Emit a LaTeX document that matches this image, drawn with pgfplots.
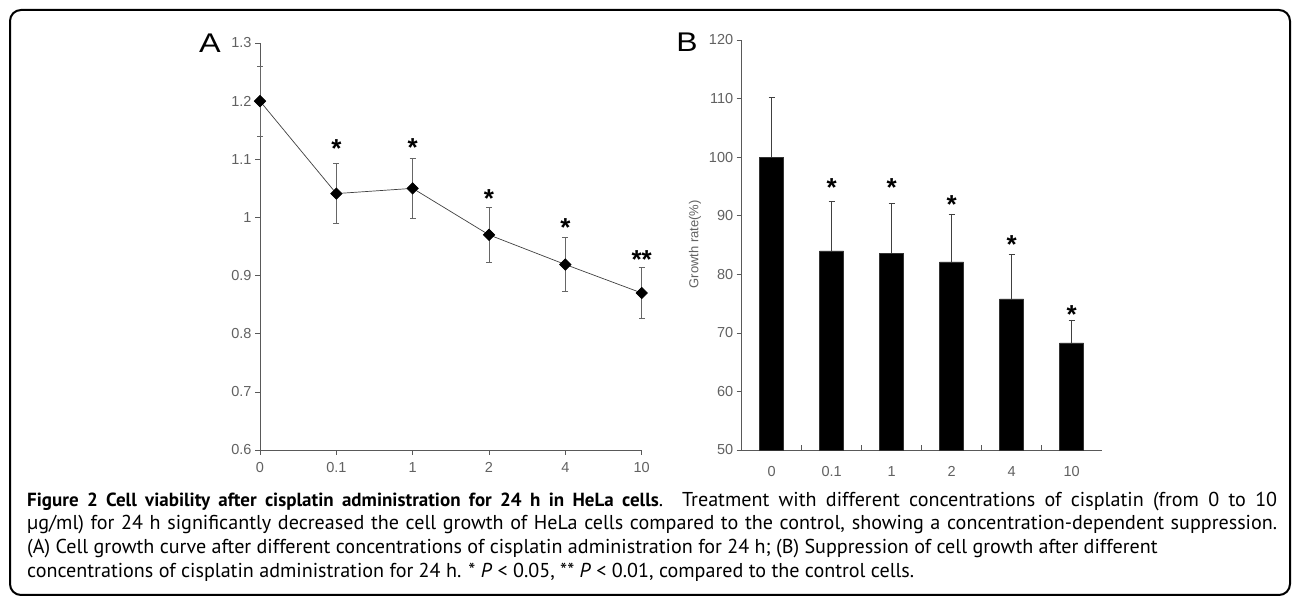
\documentclass[border=0pt]{standalone}
\usepackage{pgfplots}
\pgfplotsset{compat=1.18}
\usepackage{fontspec}
\setmainfont{Liberation Sans}
\newfontfamily\capfont{PT Sans}
\pgfplotstableread{
x y err
0 1.200 0.060
1 1.041 0.052
2 1.050 0.052
3 0.970 0.048
4 0.919 0.047
5 0.870 0.044
}\dataA
\pgfplotstableread{
x y lab
1 1.128 *
2 1.130 *
3 1.042 *
4 0.992 *
5 0.937 **
}\starsA
\pgfplotstableread{
x y err
0 100.0 10.2
1 84.0 8.5
2 83.6 8.5
3 82.1 8.2
4 75.8 7.6
5 68.3 3.9
}\dataB
\pgfplotstableread{
x y lab
1 95.8 *
2 95.8 *
3 92.9 *
4 86.0 *
5 74.0 *
}\starsB
\definecolor{axisgray}{gray}{0.35}
\definecolor{labgray}{gray}{0.38}
\pgfplotsset{
  common/.style={
    scale only axis,
    anchor=south west,
    axis x line=bottom, axis y line=left,
    axis line style={draw=axisgray, line width=0.8pt, -},
    tick style={draw=axisgray, line width=0.7pt},
    major tick length=5pt,
    tick align=outside,
    ticklabel style={font=\fontsize{14.5}{16}\selectfont, text=labgray},
    /pgf/number format/assume math mode=true,
    clip=false,
  },
  starstyle/.style={draw=none, mark=none, nodes near coords, point meta=explicit symbolic,
    nodes near coords style={font=\fontsize{26}{26}\selectfont\bfseries, text=black, anchor=base, yshift=-14.5pt, inner sep=0pt}},
}
\begin{document}
\begin{tikzpicture}[x=1pt,y=1pt]
\useasboundingbox (0,0) rectangle (1293,596);
\draw[line width=2pt, rounded corners=11pt] (10,1) rectangle (1290,586);
\node[font=\fontsize{27}{27}\selectfont, xscale=1.2] at (210,553) {A};
\node[font=\fontsize{27}{27}\selectfont, xscale=1.18] at (687,554) {B};
% Panel A
\begin{axis}[common, at={(260pt,146pt)}, width=381.7pt, height=407pt,
  xmin=0, xmax=5, ymin=0.6, ymax=1.3,
  ytick={0.6,0.7,0.8,0.9,1,1.1,1.2,1.3},
  xtick={0,1,2,3,4,5}, xticklabels={0,0.1,1,2,4,10},
  xticklabel style={yshift=-4pt},
]
\addplot[draw=black!75, line width=0.7pt, mark=square*, mark size=4pt,
  mark options={rotate=45, fill=black, draw=black, solid},
  error bars/.cd, y dir=both, y explicit,
  error bar style={draw=black!60, line width=0.7pt},
  error mark options={rotate=90, mark size=3pt, draw=black!60, line width=0.7pt}]
  table[x=x, y=y, y error=err] {\dataA};
\addplot[starstyle] table[x=x, y=y, meta=lab] {\starsA};
\end{axis}
% Panel B
\begin{axis}[common, at={(741.7pt,146pt)}, width=360pt, height=410pt,
  xmin=-0.5, xmax=5.5, ymin=50, ymax=120,
  ytick={50,60,70,80,90,100,110,120},
  xtick={0,1,2,3,4,5}, xticklabels={0,0.1,1,2,4,10},
  major x tick style={draw=none},
  xticklabel style={yshift=-8pt},
  extra x ticks={0.5,1.5,2.5,3.5,4.5},
  extra x tick labels={},
  extra x tick style={major x tick style={draw=axisgray, line width=0.7pt}, tick align=inside},
  ylabel={Growth rate(\%)},
  ylabel style={font=\fontsize{13}{15}\selectfont, text=labgray, at={(axis description cs:-0.13,0.502)}, anchor=center},
]
\addplot[ybar, bar width=24pt, fill=black, draw=black!80, line width=0.5pt,
  error bars/.cd, y dir=plus, y explicit,
  error bar style={draw=black!75, line width=0.7pt},
  error mark options={rotate=90, mark size=3pt, draw=black!75, line width=0.7pt}]
  table[x=x, y=y, y error=err] {\dataB};
\addplot[starstyle] table[x=x, y=y, meta=lab] {\starsB};
\end{axis}
\node[anchor=north west, inner sep=0pt, text width=1250pt, align=justify,
  font=\capfont\fontsize{20.1}{23.7}\selectfont] at (27,104.5) {%
{\fontsize{19}{23.7}\selectfont\textbf{Figure 2 Cell viability after cisplatin administration for 24 h in HeLa cells}}. Treatment with different concentrations of cisplatin (from 0 to 10\linebreak
µg/ml) for 24 h significantly decreased the cell growth of HeLa cells compared to the control, showing a concentration-dependent suppression.\linebreak
(A) Cell growth curve after different concentrations of cisplatin administration for 24 h; (B) Suppression of cell growth after different\newline
concentrations of cisplatin administration for 24 h. * \textit{P} < 0.05, ** \textit{P} < 0.01, compared to the control cells.};
\end{tikzpicture}
\end{document}
